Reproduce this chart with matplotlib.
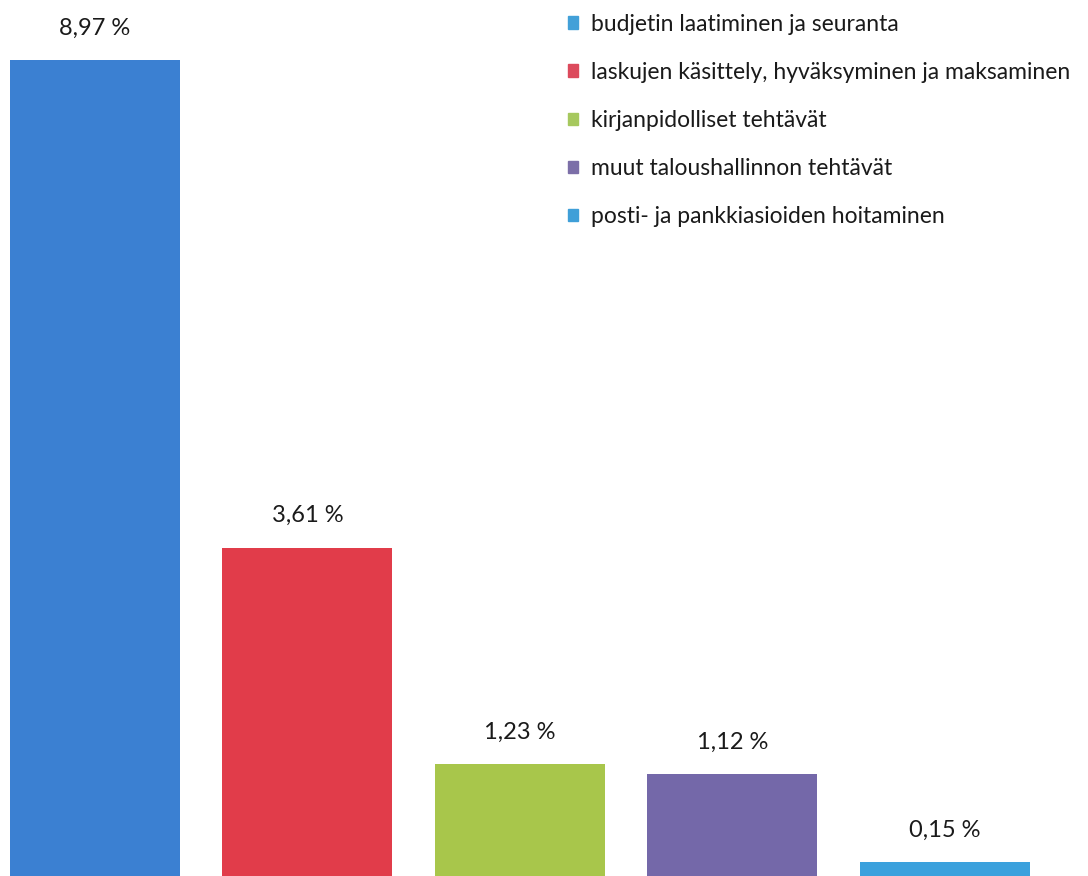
import matplotlib.pyplot as plt
from matplotlib.patches import Patch

categories = [
    'budjetin laatiminen ja seuranta',
    'laskujen käsittely, hyväksyminen ja maksaminen',
    'kirjanpidolliset tehtävät',
    'muut taloushallinnon tehtävät',
    'posti- ja pankkiasioiden hoitaminen',
]
values = [8.97, 3.61, 1.23, 1.12, 0.15]
labels = ['8,97 %', '3,61 %', '1,23 %', '1,12 %', '0,15 %']
bar_colors = ['#3b80d2', '#e13c4a', '#a8c64b', '#7468a9', '#3ba1dd']
legend_colors = ['#42a0d8', '#dc4a5c', '#a6c85e', '#7c6fa8', '#3f9fd8']

plt.rcParams['font.family'] = ['Lato', 'DejaVu Sans']

fig = plt.figure(figsize=(10.88, 8.76), dpi=100)
ax = fig.add_axes([0, 0, 1, 1])

x = range(len(values))
ax.bar(x, values, width=0.8, color=bar_colors)
for i, v in enumerate(values):
    ax.annotate(labels[i], (i, v), xytext=(0, 23), textcoords='offset points',
                ha='center', va='center', fontsize=17, color='#1a1a1a')

ax.set_xlim(-0.447, 4.673)
ax.set_ylim(0, 9.63)
ax.axis('off')

handles = [Patch(color=c) for c in legend_colors]
fig.legend(handles, categories, loc='upper left', bbox_to_anchor=(0.503, 1.008),
           frameon=False, fontsize=16.5, handlelength=0.45, handleheight=0.45,
           handletextpad=0.55, labelspacing=1.185, labelcolor='#1a1a1a')

fig.savefig('out.png', dpi=100)
